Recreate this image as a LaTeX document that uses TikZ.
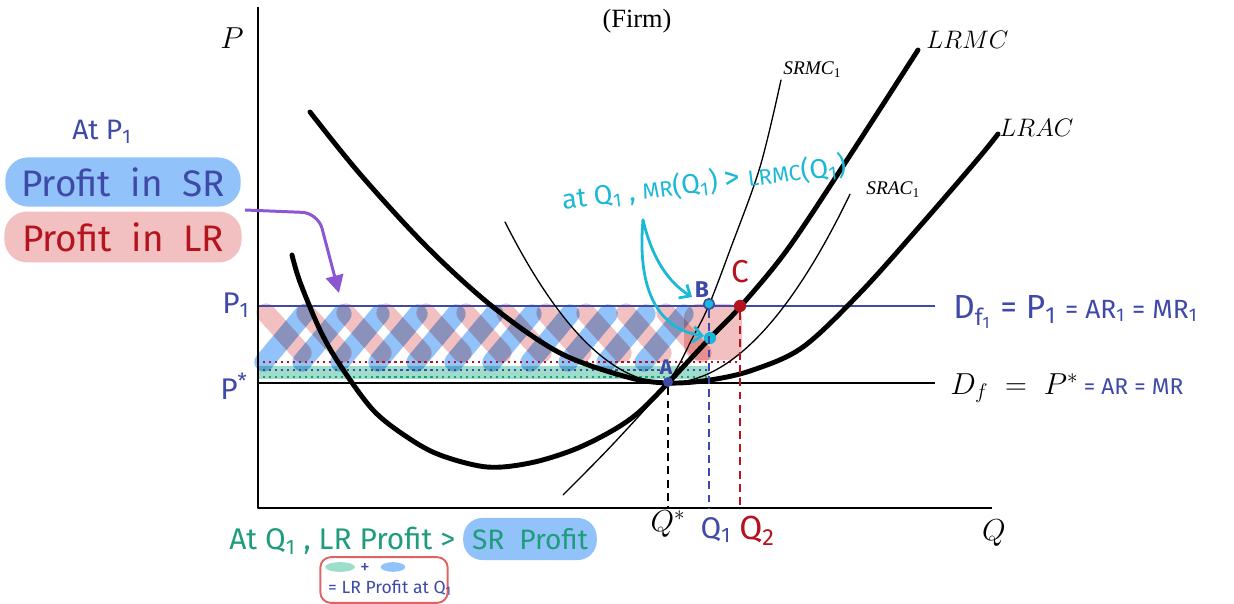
\documentclass[tikz,border=0pt]{standalone}
\usepackage{fontspec}
\newfontfamily\hand{Fira Sans}
\newfontfamily\tnr{Liberation Serif}
\usetikzlibrary{arrows.meta,shapes.geometric}
\definecolor{hblue}{HTML}{3F4AA8}
\definecolor{hred}{HTML}{B5141E}
\definecolor{pinkb}{HTML}{F2C0C0}
\definecolor{blueb}{HTML}{92C2FA}
\definecolor{hcyan}{HTML}{1CB8D8}
\definecolor{hgreen}{HTML}{1E9C7C}
\definecolor{tealb}{HTML}{9EDDC9}
\definecolor{hpurple}{HTML}{8A56D2}
\definecolor{boxred}{HTML}{E06262}
\tikzset{
  thickcurve/.style={line width=2.8pt, line cap=round},
  thincurve/.style={line width=0.75pt, line cap=round},
  axisline/.style={line width=1.7pt},
  dotline/.style={line width=1.3pt, dash pattern=on 1.3pt off 2.1pt},
  dropline/.style={line width=1.3pt, dash pattern=on 4.5pt off 3pt},
  handtxt/.style={font=\hand\fontsize{#1}{#1}\selectfont, inner sep=0pt},
  mathtxt/.style={font=\fontsize{#1}{#1}\selectfont, inner sep=0pt},
  dot/.style={circle, inner sep=0pt, minimum size=#1}
}
\begin{document}
\begin{tikzpicture}[x=0.02cm,y=-0.02cm,line join=round]
\useasboundingbox (0,0) rectangle (1234,604);

% ---- shaded profit areas ----
\fill[tealb] (257,366) rectangle (709,379);
\fill[pinkb, rounded corners=8pt] (684,304) rectangle (742,360);
\begin{scope}[blend mode=multiply, line cap=round, line width=11pt]
  \foreach \i in {0,...,10} { \draw[pinkb] ({266+\i*40},313) -- ++(36,40); }
  \foreach \i in {0,...,10} { \draw[blueb] ({264+\i*38},362) -- ++(40,-48); }
\end{scope}

% ---- price lines ----
\draw[hblue, line width=1.4pt] (257,306) -- (935,306);
\draw[black, line width=1.5pt] (257,383) -- (935,383);
\draw[hred, dotline] (257,362) -- (740,362);
\draw[hblue, dotline] (257,370) -- (709,370);
\draw[hgreen, dotline] (257,377) -- (709,377);

% ---- axes ----
\draw[axisline] (258,7) -- (258,508) -- (992,508);

% ---- cost curves ----
% LRAC
\draw[thickcurve] plot[smooth, tension=0.55] coordinates {(310,112) (360,174) (427,247) (493,307) (560,353) (627,377) (668,383) (710,380) (753,370) (803,347) (860,293) (920,226) (977,160) (998,134)};
% LRMC
\draw[thickcurve] plot[smooth, tension=0.55] coordinates {(292,255) (300,282) (320,330) (340,365) (373,410) (407,437) (440,455) (487,467) (530,463) (573,450) (610,432) (638,413) (668,383) (710,338) (740,307) (787,250) (847,160) (918,50)};
% SRAC1
\draw[thincurve] plot[domain=505:668, samples=50] (\x, {383-60.6*((\x-668)/100)^2});
\draw[thincurve] plot[domain=668:850, samples=50] (\x, {383-57*((\x-668)/100)^2});
% SRMC1
\draw[thincurve] plot[smooth, tension=0.55] coordinates {(563,495) (615,442) (668,382) (693,337) (709,305) (730,250) (760,167) (781,80)};

% ---- points ----
\node[dot=5.7pt, fill=hblue] (A) at (668,382) {};
\node[dot=6pt, fill=hcyan, draw=hblue, line width=0.9pt] (B) at (709,304) {};
\node[dot=7pt, fill=hred] (C) at (740,306) {};
\node[dot=7pt, fill=hcyan] (E) at (710,338) {};
\coordinate (qs) at (668,508);
\coordinate (q1) at (709,508);
\coordinate (q2) at (740,508);
\draw[black, line width=0.9pt, dash pattern=on 4.5pt off 3pt] (A.south) -- (qs);
\draw[hblue, dropline] (B.south) -- (q1);
\draw[hred, dropline] (C.south) -- (q2);

\node[font=\hand\bfseries\fontsize{12}{12}\selectfont, inner sep=0pt, text=hblue] (lA) at (666,367) {A};
\node[font=\hand\bfseries\fontsize{13}{13}\selectfont, inner sep=0pt, text=hblue] (lB) at (702,290) {B};
\node[handtxt=18, text=hred] (lC) at (740,272) {C};

% ---- printed labels ----
\node[font=\tnr\fontsize{15}{15}\selectfont, inner sep=0pt] (firm) at (637,21) {(Firm)};
\node[mathtxt=17] (P) at (232,38) {$P$};
\node[mathtxt=17] (Q) at (994,533) {$Q$};
\node[mathtxt=17] (Qs) at (668,524) {$Q^*$};
\node[mathtxt=15, anchor=west] (LRMC) at (926,40) {$LRMC$};
\node[mathtxt=15, anchor=west] (LRAC) at (999,128) {$LRAC$};
\node[font=\tnr\itshape\fontsize{11}{11}\selectfont, inner sep=0pt, anchor=west] (srmc) at (783,70) {SRMC\textsubscript{\upshape 1}};
\node[font=\tnr\itshape\fontsize{11}{11}\selectfont, inner sep=0pt, anchor=west] (srac) at (866,190) {SRAC\textsubscript{\upshape 1}};

% ---- right-hand labels ----
\node[handtxt=19, text=hblue, anchor=west] (df1) at (953,312)
  {D\textsubscript{f\textsubscript{1}}\ =\ P\textsubscript{1}\ {\fontsize{15}{15}\selectfont =\ AR\textsubscript{1}\ =\ MR\textsubscript{1}}};
\node[mathtxt=18, anchor=west] (df) at (950,388)
  {$D_f \;=\; P^*$\,{\hand\color{hblue}\fontsize{13}{13}\selectfont = AR = MR}};

% ---- axis-side hand labels ----
\node[handtxt=17, text=hblue] (p1) at (236,305) {P\textsubscript{1}};
\node[handtxt=17, text=hblue] (pstar) at (234,386) {P\textsuperscript{*}};
\node[handtxt=17, text=hblue] (lq1) at (716,530) {Q\textsubscript{1}};
\node[handtxt=19, text=hred] (lq2) at (757,531) {Q\textsubscript{2}};

% ---- left legend ----
\node[handtxt=16, text=hblue] (atp1) at (102,132) {At P\textsubscript{1}};
\node[fill=blueb, rounded corners=13pt, minimum width=134pt, minimum height=28pt, inner sep=0pt,
      font=\hand\fontsize{21}{21}\selectfont, text=hblue] (sr) at (123,182) {Profit\ \ in\ \ SR};
\node[fill=pinkb, rounded corners=13pt, minimum width=135pt, minimum height=29pt, inner sep=0pt,
      font=\hand\fontsize{21}{21}\selectfont, text=hred] (lr) at (123,237) {Profit\ \ in\ \ LR};
\coordinate (pa0) at (245,210);
\coordinate (pa1) at (339,293);
\draw[hpurple, line width=1.7pt, rounded corners=9pt, -{Triangle[length=10pt,width=10pt]}]
  (pa0) -- (318,213) -- (pa1);

% ---- cyan note ----
\node[handtxt=15.5, text=hcyan, rotate=7] (note) at (704,183)
  {at Q\textsubscript{1}\ , {\fontsize{12.5}{12.5}\selectfont MR}(Q\textsubscript{1}) {\fontsize{18}{18}\selectfont >} {\fontsize{12.5}{12.5}\selectfont LRMC}(Q\textsubscript{1})};
\coordinate (cy0) at (643,220);
\coordinate (cyb) at (692,297);
\coordinate (cye) at (704,336);
\draw[hcyan, line width=1.6pt, line cap=round, -{Straight Barb[length=5pt,width=9pt]}]
  (cy0) .. controls (652,258) and (668,282) .. (cyb);
\draw[hcyan, line width=1.6pt, line cap=round, -{Straight Barb[length=5pt,width=9pt]}]
  (cy0) .. controls (636,300) and (665,330) .. (cye);

% ---- bottom note ----
\node[handtxt=17, text=hgreen, anchor=west] (btm) at (229,541) {At\ Q\textsubscript{1}\ ,\ LR\ Profit\ >};
\node[fill=blueb, rounded corners=11pt, minimum width=76pt, minimum height=24pt, inner sep=0pt,
      font=\hand\fontsize{16}{16}\selectfont, text=hgreen] (srp) at (530,539) {SR\ \ Profit};
\node[draw=boxred, line width=1.1pt, rounded corners=6pt, minimum width=72.5pt, minimum height=26pt, inner sep=0pt] (box) at (384,580) {};
\node[ellipse, fill=tealb, minimum width=17pt, minimum height=5.5pt, inner sep=0pt] (eg) at (340,567) {};
\node[handtxt=11, text=hblue] (plus) at (365,568) {+};
\node[ellipse, fill=blueb, minimum width=14pt, minimum height=5.5pt, inner sep=0pt] (eb) at (393,567) {};
\node[handtxt=10, text=hblue] (lrq) at (390,588) {= LR Profit at Q\textsubscript{1}};
\end{tikzpicture}
\end{document}
